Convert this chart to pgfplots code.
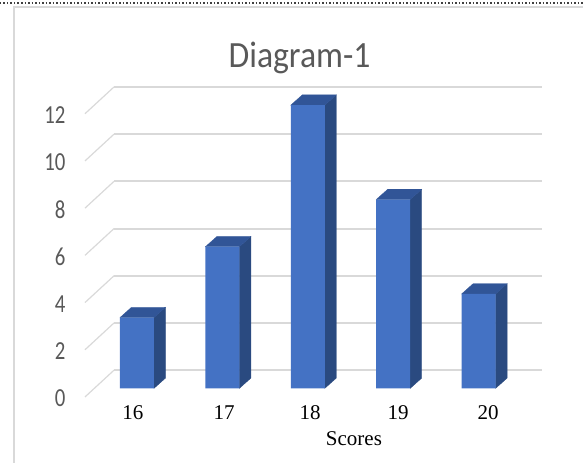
\documentclass[border=0pt]{standalone}
\usepackage{fontspec}
\setmainfont{Carlito}
\newfontfamily\tickfont[FakeStretch=0.8]{Carlito}
\newfontfamily\titlefont[FakeStretch=0.91]{Carlito}
\newfontfamily\timesfont{Liberation Serif}
\usepackage{pgfplots}
\pgfplotsset{compat=1.18}
\definecolor{front}{HTML}{4472C4}
\definecolor{sideface}{HTML}{2A4A80}
\definecolor{topface}{HTML}{315597}
\definecolor{gridc}{HTML}{D9D9D9}
\definecolor{txt}{HTML}{595959}
\begin{document}
\begin{tikzpicture}
  \begin{axis}[
    x=85.4pt, y=23.6pt,
    xmin=15.391, xmax=20.742,
    ymin=0, ymax=12.767,
    clip=false,
    axis line style={draw=none},
    major tick length=0pt,
    xtick={15.953,17.019,18.026,19.056,20.110},
    xticklabels={16,17,18,19,20},
    ytick={0,2,...,12},
    /pgf/number format/assume math mode=true,
    xticklabel style={font=\timesfont\fontsize{21}{21}\selectfont, text=black, anchor=center, yshift=-24.7pt},
    yticklabel style={font=\tickfont\fontsize{26}{26}\selectfont, text=txt, anchor=east, xshift=-16pt, yshift=-9.8pt},
    title={Diagram-1},
    title style={at={(axis cs:17.903,13.75)}, anchor=center, font=\titlefont\fontsize{37}{38}\selectfont, text=txt},
    xlabel={Scores},
    xlabel style={at={(axis cs:18.54,-2.13)}, anchor=center, font=\timesfont\fontsize{21}{22}\selectfont, text=black},
  ]
  % walls
  \addplot[gridc, line width=1.2pt] coordinates {(15.391,-0.365) (15.731,0.77)};
  \addplot[gridc, line width=1.2pt] coordinates {(15.391,1.635) (15.731,2.77)};
  \addplot[gridc, line width=1.2pt] coordinates {(15.391,3.635) (15.731,4.77)};
  \addplot[gridc, line width=1.2pt] coordinates {(15.391,5.635) (15.731,6.77)};
  \addplot[gridc, line width=1.2pt] coordinates {(15.391,7.635) (15.731,8.77)};
  \addplot[gridc, line width=1.2pt] coordinates {(15.391,9.635) (15.731,10.77)};
  \addplot[gridc, line width=1.2pt] coordinates {(15.391,11.635) (15.731,12.77)};
  \addplot[gridc, line width=2pt] coordinates {(15.731,0.77) (20.742,0.77)};
  \addplot[gridc, line width=2pt] coordinates {(15.731,2.77) (20.742,2.77)};
  \addplot[gridc, line width=2pt] coordinates {(15.731,4.77) (20.742,4.77)};
  \addplot[gridc, line width=2pt] coordinates {(15.731,6.77) (20.742,6.77)};
  \addplot[gridc, line width=2pt] coordinates {(15.731,8.77) (20.742,8.77)};
  \addplot[gridc, line width=2pt] coordinates {(15.731,10.77) (20.742,10.77)};
  \addplot[gridc, line width=2pt] coordinates {(15.731,12.77) (20.742,12.77)};
  % side faces
  \addplot[fill=sideface, draw=sideface, line width=0.3pt] coordinates {(16.199,0) (16.334,0.436) (16.334,3.436) (16.199,3)} -- cycle;
  \addplot[fill=sideface, draw=sideface, line width=0.3pt] coordinates {(17.199,0) (17.334,0.436) (17.334,6.436) (17.199,6)} -- cycle;
  \addplot[fill=sideface, draw=sideface, line width=0.3pt] coordinates {(18.199,0) (18.334,0.436) (18.334,12.436) (18.199,12)} -- cycle;
  \addplot[fill=sideface, draw=sideface, line width=0.3pt] coordinates {(19.199,0) (19.334,0.436) (19.334,8.436) (19.199,8)} -- cycle;
  \addplot[fill=sideface, draw=sideface, line width=0.3pt] coordinates {(20.199,0) (20.334,0.436) (20.334,4.436) (20.199,4)} -- cycle;
  % top faces
  \addplot[fill=topface, draw=topface, line width=0.3pt] coordinates {(15.801,3) (15.936,3.436) (16.334,3.436) (16.199,3)} -- cycle;
  \addplot[fill=topface, draw=topface, line width=0.3pt] coordinates {(16.801,6) (16.936,6.436) (17.334,6.436) (17.199,6)} -- cycle;
  \addplot[fill=topface, draw=topface, line width=0.3pt] coordinates {(17.801,12) (17.936,12.436) (18.334,12.436) (18.199,12)} -- cycle;
  \addplot[fill=topface, draw=topface, line width=0.3pt] coordinates {(18.801,8) (18.936,8.436) (19.334,8.436) (19.199,8)} -- cycle;
  \addplot[fill=topface, draw=topface, line width=0.3pt] coordinates {(19.801,4) (19.936,4.436) (20.334,4.436) (20.199,4)} -- cycle;
  % front faces
  \addplot[ybar, bar width=34pt, bar shift=0pt, fill=front, draw=none]
    coordinates {(16,3) (17,6) (18,12) (19,8) (20,4)};
  % window frame
  \draw[black!75, line width=1.5pt, dotted] (axis cs:14.396,16.33) -- (axis cs:21.222,16.33);
  \draw[gridc, line width=1.3pt] (axis cs:14.55,16.16) -- (axis cs:21.222,16.16);
  \draw[gridc, line width=1.3pt] (axis cs:14.56,16.16) -- (axis cs:14.56,-3.165);
  \coordinate (pa) at (axis cs:14.396,-3.165);
  \coordinate (pb) at (axis cs:21.222,16.454);
  \end{axis}
  \pgfresetboundingbox
  \useasboundingbox (pa) rectangle (pb);
\end{tikzpicture}
\end{document}
